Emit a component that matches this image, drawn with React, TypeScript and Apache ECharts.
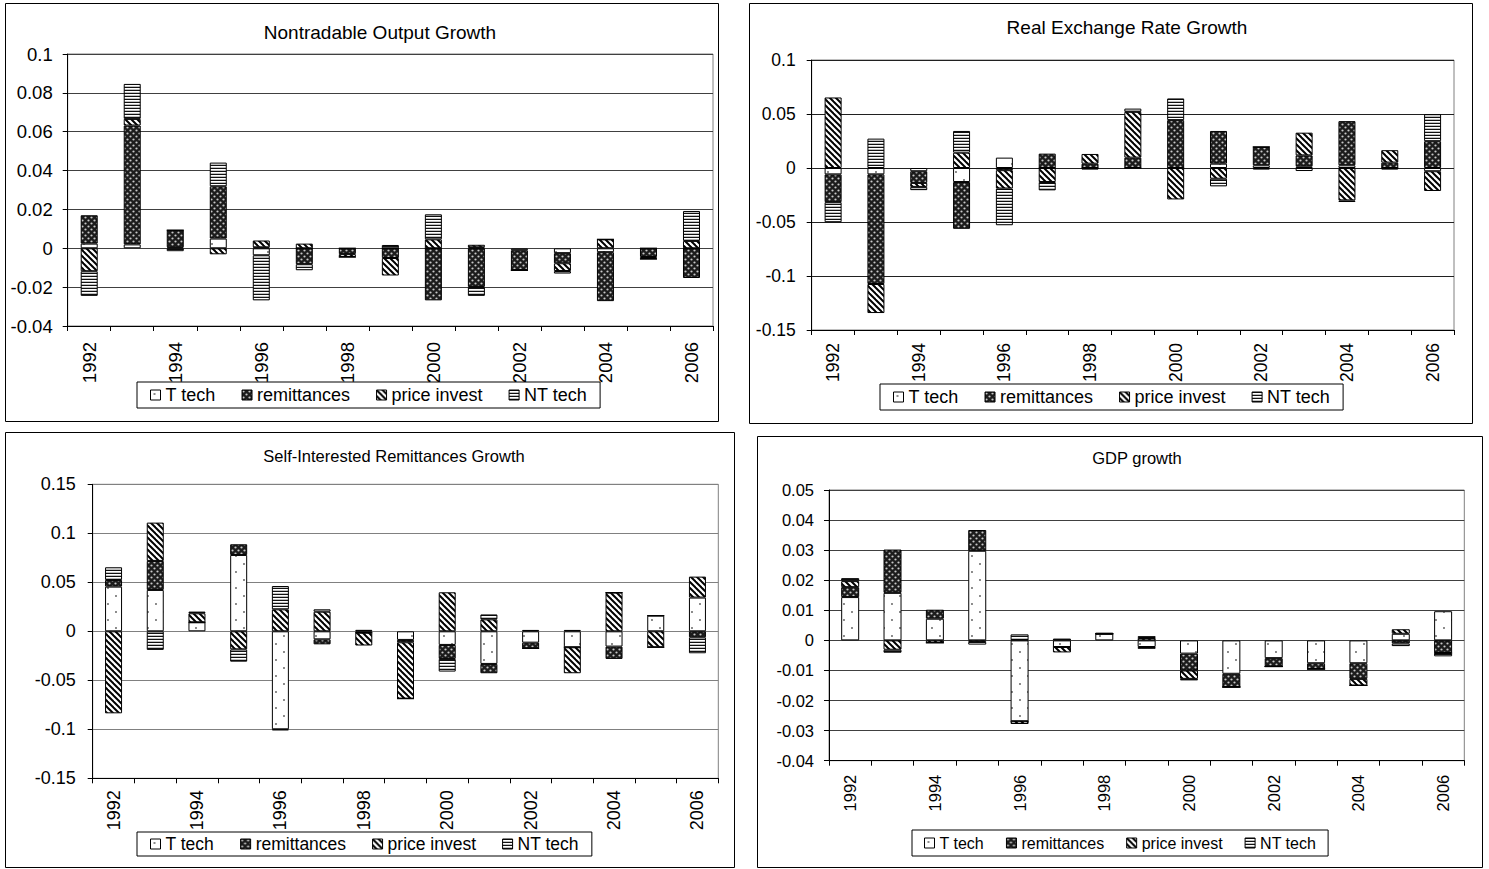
import React, { useEffect, useRef } from 'react';
import * as echarts from 'echarts';

const years = ['1992', '1993', '1994', '1995', '1996', '1997', '1998', '1999', '2000', '2001', '2002', '2003', '2004', '2005', '2006'];
const seriesNames = ['T tech', 'remittances', 'price invest', 'NT tech'];

// Panel 1: Nontradable Output Growth
const ntoTTech = [0.0024, 0.002, 0.0005, 0.005, -0.0036, 0, 0, 0, 0, 0.0005, -0.001, -0.0025, -0.002, 0, 0];
const ntoRemit = [0.0146, 0.0612, 0.0088, 0.0269, 0.0005, -0.0082, -0.003, -0.005, -0.0268, -0.0199, -0.0103, -0.0052, -0.0252, -0.0045, -0.0153];
const ntoPrice = [-0.0118, 0.0034, 0, -0.0031, 0.0035, 0.0024, -0.0015, -0.009, 0.0046, 0.0013, 0, -0.004, 0.0046, -0.001, 0.0038];
const ntoNTTech = [-0.0127, 0.018, -0.0015, 0.0122, -0.0232, -0.0031, 0, 0.0017, 0.0129, -0.0046, 0, -0.0013, 0, 0, 0.0154];

// Panel 2: Real Exchange Rate Growth
const rerTTech = [-0.0059, -0.0059, -0.003, -0.013, 0.0096, 0, 0, 0, 0, 0.004, 0.0025, 0.0015, 0.0025, 0, -0.003];
const rerRemit = [-0.0257, -0.1015, -0.0108, -0.0433, -0.002, 0.0133, 0.004, 0.0096, 0.0443, 0.0303, 0.017, 0.0102, 0.0409, 0.005, 0.0248];
const rerPrice = [0.0653, -0.0269, -0.0037, 0.0142, -0.017, -0.013, 0.009, 0.0424, -0.0291, -0.0099, 0, 0.021, -0.03, 0.0115, -0.0183];
const rerNTTech = [-0.0186, 0.0272, -0.003, 0.0201, -0.034, -0.0077, -0.0015, 0.003, 0.0201, -0.0071, -0.0015, -0.0028, -0.0015, -0.0015, 0.025];

// Panel 3: Self-Interested Remittances Growth
const sirTTech = [0.0456, 0.0422, 0.0092, 0.0779, -0.1, -0.0082, -0.0015, -0.0088, -0.0139, -0.0333, -0.0116, -0.0163, -0.0156, 0.016, 0.0344];
const sirRemit = [0.0068, 0.0296, 0, 0.0109, -0.001, -0.0051, 0, -0.0024, -0.0143, -0.0095, -0.0058, 0, -0.0126, 0, -0.0061];
const sirPrice = [-0.0837, 0.0391, 0.0092, -0.0184, 0.0224, 0.02, -0.013, -0.0575, 0.0398, 0.0122, 0, -0.0265, 0.0395, -0.0163, 0.0214];
const sirNTTech = [0.0129, -0.019, 0.0017, -0.0126, 0.0238, 0.0024, 0.0015, 0, -0.0129, 0.005, 0.0014, 0.0014, 0, 0, -0.0163];

// Panel 4: GDP growth
const gdpTTech = [0.0144, 0.0158, 0.0072, 0.0298, -0.0269, -0.0022, 0.0022, -0.0022, -0.0044, -0.0111, -0.0059, -0.0076, -0.0076, 0.0022, 0.0097];
const gdpRemit = [0.0033, 0.0144, 0.003, 0.0069, 0, 0, 0, -0.0006, -0.0056, -0.0044, -0.0028, -0.0019, -0.0052, -0.001, -0.0042];
const gdpPrice = [0.002, -0.0031, -0.0008, -0.0005, -0.0009, -0.0018, 0, 0.0008, -0.0028, 0, 0, 0, -0.0022, 0.0015, 0];
const gdpNTTech = [0.001, -0.001, 0, -0.0009, 0.002, 0.0006, 0.0003, 0.0006, -0.0005, 0, 0, 0, 0, -0.0009, -0.0011];

const FONT = 'Liberation Sans';

const panels = [
  {
    title: 'Nontradable Output Growth', titleX: 380, titleY: 32, titleSize: 19,
    box: [5.5, 3.5, 713, 418],
    grid: { left: 67.7, top: 54, width: 645.3, height: 272 },
    y: { min: -0.04, max: 0.1, interval: 0.02 }, tickSize: 18.5, yMargin: 15, xMargin: 16,
    split: '#404040', barWidth: 17,
    legend: { left: 137, top: 382, size: 18, gap: 26, pad: [4, 13] },
    values: [ntoTTech, ntoRemit, ntoPrice, ntoNTTech],
  },
  {
    title: 'Real Exchange Rate Growth', titleX: 1127, titleY: 27, titleSize: 19,
    box: [749.5, 3.5, 723, 420],
    grid: { left: 811.7, top: 60, width: 642.3, height: 270 },
    y: { min: -0.15, max: 0.1, interval: 0.05 }, tickSize: 17.5, yMargin: 16, xMargin: 13,
    split: '#202020', barWidth: 17,
    legend: { left: 880, top: 384, size: 18, gap: 26, pad: [4, 13] },
    values: [rerTTech, rerRemit, rerPrice, rerNTTech],
  },
  {
    title: 'Self-Interested Remittances Growth', titleX: 394, titleY: 456, titleSize: 16.5,
    box: [5.5, 432.5, 729, 435],
    grid: { left: 92.7, top: 484.3, width: 625.6, height: 294 },
    y: { min: -0.15, max: 0.15, interval: 0.05 }, tickSize: 18, yMargin: 17, xMargin: 12,
    split: '#808080', barWidth: 17,
    legend: { left: 137, top: 832, size: 17.5, gap: 26, pad: [3, 13] },
    values: [sirTTech, sirRemit, sirPrice, sirNTTech],
  },
  {
    title: 'GDP growth', titleX: 1137, titleY: 458, titleSize: 16.5,
    box: [757.5, 436.5, 725, 431],
    grid: { left: 829, top: 490, width: 635.3, height: 270.7 },
    y: { min: -0.04, max: 0.05, interval: 0.01 }, tickSize: 16.5, yMargin: 15, xMargin: 14,
    split: '#404040', barWidth: 18,
    legend: { left: 912, top: 830, size: 16, gap: 22, pad: [5, 12] },
    values: [gdpTTech, gdpRemit, gdpPrice, gdpNTTech],
  },
];

function makeCanvas(w: number, h: number, draw: (ctx: CanvasRenderingContext2D) => void) {
  const c = document.createElement('canvas');
  c.width = w;
  c.height = h;
  const ctx = c.getContext('2d') as CanvasRenderingContext2D;
  draw(ctx);
  return c;
}

function buildPatterns() {
  const tTech = makeCanvas(16, 16, (ctx) => {
    ctx.fillStyle = '#ffffff';
    ctx.fillRect(0, 0, 16, 16);
    ctx.fillStyle = '#555555';
    ctx.beginPath();
    ctx.arc(4, 4, 0.9, 0, Math.PI * 2);
    ctx.arc(12, 12, 0.9, 0, Math.PI * 2);
    ctx.fill();
  });
  const remit = makeCanvas(6, 6, (ctx) => {
    ctx.fillStyle = '#1c1c1c';
    ctx.fillRect(0, 0, 6, 6);
    ctx.fillStyle = '#c8c8c8';
    ctx.beginPath();
    ctx.arc(1.5, 1.5, 1.1, 0, Math.PI * 2);
    ctx.fill();
    ctx.beginPath();
    ctx.arc(4.5, 4.5, 1.1, 0, Math.PI * 2);
    ctx.fill();
  });
  const price = makeCanvas(6, 6, (ctx) => {
    ctx.fillStyle = '#ffffff';
    ctx.fillRect(0, 0, 6, 6);
    ctx.strokeStyle = '#000000';
    ctx.lineWidth = 2;
    for (const k of [-6, 0, 6]) {
      ctx.beginPath();
      ctx.moveTo(k - 1, -1);
      ctx.lineTo(k + 7, 7);
      ctx.stroke();
    }
  });
  const nt = makeCanvas(4, 3, (ctx) => {
    ctx.fillStyle = '#ffffff';
    ctx.fillRect(0, 0, 4, 3);
    ctx.fillStyle = '#111111';
    ctx.fillRect(0, 0, 4, 1);
    ctx.fillStyle = '#c0c0c0';
    ctx.fillRect(0, 2, 4, 1);
  });
  const mk = (c: HTMLCanvasElement) => ({ image: c, repeat: 'repeat', imageWidth: c.width, imageHeight: c.height });
  return [mk(tTech), mk(remit), mk(price), mk(nt)];
}

export default function App() {
  const ref = useRef<HTMLDivElement>(null);

  useEffect(() => {
    if (!ref.current) return;
    const chart = echarts.init(ref.current, null, { renderer: 'svg' });
    const patterns = buildPatterns();

    const grids: any[] = [];
    const xAxes: any[] = [];
    const yAxes: any[] = [];
    const series: any[] = [];
    const legends: any[] = [];
    const graphics: any[] = [];

    panels.forEach((p, i) => {
      grids.push({ ...p.grid, show: true, borderColor: '#808080', borderWidth: 1, backgroundColor: 'transparent', containLabel: false, outerBoundsMode: 'none' });
      xAxes.push({
        type: 'category', gridIndex: i, data: years, boundaryGap: true,
        axisLine: { show: true, onZero: false, lineStyle: { color: '#000', width: 1 } },
        axisTick: { show: true, interval: 0, alignWithLabel: false, length: 5, lineStyle: { color: '#000' } },
        axisLabel: { interval: 1, rotate: 90, margin: p.xMargin, color: '#000', fontFamily: FONT, fontSize: p.tickSize },
        splitLine: { show: false },
      });
      yAxes.push({
        type: 'value', gridIndex: i, min: p.y.min, max: p.y.max, interval: p.y.interval,
        axisLine: { show: true, lineStyle: { color: '#000', width: 1 } },
        axisTick: { show: true, length: 5, lineStyle: { color: '#000' } },
        axisLabel: { margin: p.yMargin, color: '#000', fontFamily: FONT, fontSize: p.tickSize },
        splitLine: { show: true, lineStyle: { color: p.split, width: 1 } },
      });
      seriesNames.forEach((name, k) => {
        series.push({
          type: 'bar', name, xAxisIndex: i, yAxisIndex: i, stack: 'p' + i,
          barWidth: p.barWidth,
          data: p.values[k],
          itemStyle: { color: patterns[k], borderColor: '#000', borderWidth: 1 },
          emphasis: { disabled: true },
        });
      });
      legends.push({
        left: p.legend.left, top: p.legend.top, orient: 'horizontal',
        data: seriesNames, icon: 'rect', itemWidth: 10, itemHeight: 10, itemGap: p.legend.gap,
        padding: p.legend.pad, borderColor: '#000', borderWidth: 1, backgroundColor: '#fff',
        textStyle: { color: '#000', fontFamily: FONT, fontSize: p.legend.size },
        selectedMode: false,
        itemStyle: { borderColor: '#000', borderWidth: 1 },
      });
      graphics.push({
        type: 'rect', silent: true, z: -10,
        shape: { x: p.box[0], y: p.box[1], width: p.box[2], height: p.box[3] },
        style: { fill: 'transparent', stroke: '#000', lineWidth: 1 },
      });
      graphics.push({
        type: 'text', silent: true, x: p.titleX, y: p.titleY,
        style: {
          text: p.title, fill: '#000', fontFamily: FONT, fontSize: p.titleSize,
          textAlign: 'center', textVerticalAlign: 'middle', align: 'center', verticalAlign: 'middle',
        },
      });
    });

    chart.setOption({
      animation: false,
      backgroundColor: '#fff',
      textStyle: { fontFamily: FONT },
      grid: grids,
      xAxis: xAxes,
      yAxis: yAxes,
      legend: legends,
      series,
      graphic: graphics,
    });

    return () => chart.dispose();
  }, []);

  return <div ref={ref} style={{ position: 'absolute', left: 0, top: 0, width: 1489, height: 869 }} />;
}
